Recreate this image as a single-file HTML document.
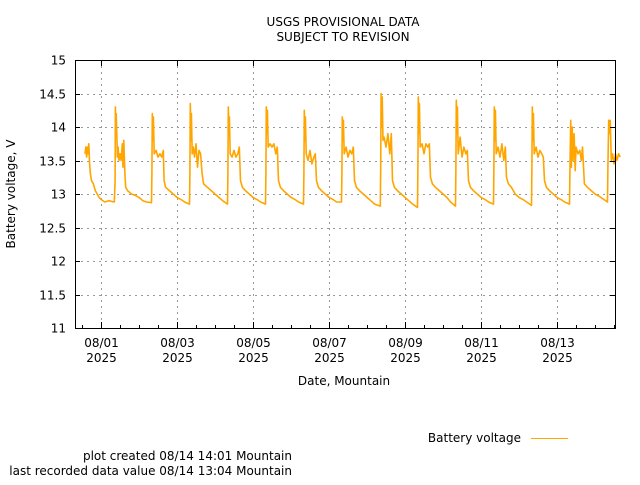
<!DOCTYPE html>
<html><head><meta charset="utf-8"><style>
body{margin:0;background:#fff;}
svg text{font-family:"DejaVu Sans","Liberation Sans",sans-serif;font-size:12px;fill:#000;}
</style></head><body>
<svg id="chart" width="640" height="480" viewBox="0 0 640 480">
<text x="343" y="26" text-anchor="middle">USGS PROVISIONAL DATA</text>
<text x="343" y="41" text-anchor="middle">SUBJECT TO REVISION</text>
<g id="grid"></g>
<g id="series"></g>
<rect x="75.5" y="60.5" width="540" height="268" fill="none" stroke="#000" stroke-width="1"/>
<g id="axes"></g>
<text transform="translate(15,194) rotate(-90)" text-anchor="middle">Battery voltage, V</text>
<text x="344" y="385" text-anchor="middle">Date, Mountain</text>
<g>
<text x="521" y="442" text-anchor="end">Battery voltage</text>
<line x1="531" y1="438.5" x2="568" y2="438.5" stroke="#FFA500" stroke-width="1"/>
</g>
<text x="292" y="460" text-anchor="end">plot created 08/14 14:01 Mountain</text>
<text x="292" y="475" text-anchor="end">last recorded data value 08/14 13:04 Mountain</text>
</svg>
<script>
const yTicks=[11,11.5,12,12.5,13,13.5,14,14.5,15];
const yTickLabels=["11","11.5","12","12.5","13","13.5","14","14.5","15"];
const xTicks=[0,2,4,6,8,10,12];
const xTickLabels=[["08/01","2025"],["08/03","2025"],["08/05","2025"],["08/07","2025"],["08/09","2025"],["08/11","2025"],["08/13","2025"]];
const xMinorTicks=[-0.5,0.5,1,1.5,2.5,3,3.5,4.5,5,5.5,6.5,7,7.5,8.5,9,9.5,10.5,11,11.5,12.5,13,13.5];
const times=[-0.42,-0.40,-0.38,-0.36,-0.34,-0.32,-0.30,-0.28,-0.25,-0.2,-0.15,-0.1,-0.05,0.0,0.1,0.2,0.35,
0.37,0.38,0.39,0.40,0.42,0.43,0.45,0.47,0.50,0.53,0.56,0.58,0.60,0.63,0.65,0.70,0.8,0.9,1.0,1.1,1.2,1.33,
1.34,1.35,1.37,1.38,1.40,1.45,1.5,1.55,1.6,1.64,1.66,1.7,1.8,1.9,2.0,2.1,2.2,2.33,
2.34,2.35,2.37,2.38,2.40,2.43,2.46,2.5,2.54,2.58,2.62,2.66,2.7,2.8,2.9,3.0,3.1,3.2,3.33,
3.34,3.35,3.37,3.38,3.40,3.45,3.5,3.55,3.6,3.64,3.67,3.72,3.8,3.9,4.0,4.1,4.2,4.33,
4.34,4.35,4.37,4.38,4.40,4.45,4.5,4.55,4.6,4.64,4.67,4.72,4.8,4.9,5.0,5.1,5.2,5.33,
5.34,5.35,5.37,5.38,5.40,5.45,5.5,5.55,5.6,5.64,5.67,5.72,5.8,5.9,6.0,6.1,6.2,6.33,
6.34,6.35,6.37,6.38,6.40,6.45,6.5,6.55,6.6,6.64,6.67,6.72,6.8,6.9,7.0,7.1,7.2,7.35,
7.36,7.37,7.39,7.40,7.42,7.45,7.5,7.55,7.6,7.64,7.67,7.72,7.8,7.9,8.0,8.1,8.2,8.33,
8.34,8.35,8.37,8.38,8.40,8.45,8.5,8.55,8.6,8.64,8.67,8.72,8.8,8.9,9.0,9.1,9.2,9.33,
9.34,9.35,9.37,9.38,9.40,9.45,9.5,9.55,9.6,9.64,9.67,9.72,9.8,9.9,10.0,10.1,10.2,10.33,
10.34,10.35,10.37,10.38,10.40,10.45,10.5,10.55,10.6,10.64,10.67,10.72,10.8,10.9,11.0,11.1,11.2,11.33,
11.34,11.35,11.37,11.38,11.40,11.45,11.5,11.55,11.6,11.64,11.67,11.72,11.8,11.9,12.0,12.1,12.2,12.33,
12.34,12.36,12.38,12.40,12.42,12.45,12.48,12.5,12.55,12.6,12.64,12.67,12.72,12.8,12.9,13.0,13.1,13.2,13.33,
13.34,13.36,13.38,13.40,13.43,13.46,13.5,13.54,13.58,13.62,13.66];
const volts=[13.6,13.7,13.55,13.7,13.6,13.75,13.45,13.3,13.2,13.15,13.05,13.0,12.95,12.92,12.88,12.9,12.88,
13.2,14.3,13.9,14.2,13.8,13.55,13.7,13.5,13.6,13.5,13.75,13.4,13.8,13.3,13.1,13.05,13.0,12.98,12.95,12.9,12.88,12.87,
13.3,14.2,13.8,14.15,13.6,13.65,13.55,13.6,13.55,13.65,13.2,13.1,13.05,13.0,12.95,12.92,12.88,12.85,
13.3,14.35,13.8,14.2,13.6,13.7,13.55,13.75,13.4,13.65,13.6,13.3,13.15,13.1,13.05,13.0,12.95,12.9,12.85,
13.3,14.3,13.9,14.15,13.6,13.55,13.65,13.55,13.6,13.7,13.2,13.1,13.05,13.0,12.95,12.92,12.88,12.85,
13.3,14.3,13.9,14.25,13.7,13.75,13.7,13.75,13.6,13.7,13.2,13.1,13.05,13.0,12.95,12.92,12.88,12.85,
13.3,14.25,13.8,14.15,13.6,13.5,13.65,13.45,13.55,13.6,13.2,13.1,13.05,13.0,12.95,12.92,12.88,12.88,
13.3,14.15,13.8,14.1,13.6,13.7,13.55,13.65,13.6,13.7,13.2,13.1,13.05,13.0,12.95,12.9,12.85,12.82,
13.4,14.5,14.0,14.45,13.8,13.85,13.7,13.9,13.6,13.9,13.2,13.1,13.05,13.0,12.95,12.9,12.85,12.8,
13.4,14.45,13.9,14.35,13.7,13.75,13.6,13.75,13.7,13.75,13.25,13.15,13.1,13.05,13.0,12.95,12.88,12.82,
13.4,14.4,13.9,14.3,13.6,13.85,13.55,13.7,13.6,13.65,13.2,13.1,13.05,13.0,12.95,12.92,12.88,12.85,
13.4,14.3,13.8,14.25,13.6,13.7,13.55,13.75,13.5,13.7,13.25,13.15,13.1,13.0,12.95,12.92,12.88,12.83,
13.4,14.3,13.8,14.2,13.6,13.7,13.55,13.65,13.6,13.55,13.2,13.1,13.05,13.0,12.95,12.92,12.88,12.85,
13.3,14.1,13.4,14.0,13.5,13.9,13.35,13.7,13.6,13.65,13.5,13.7,13.15,13.1,13.05,13.0,12.97,12.93,12.88,
13.4,14.1,13.9,14.1,13.5,13.6,13.45,13.6,13.5,13.6,13.55];
const X0=101,DAY=38,Y0=328,VPX=67;
function xs(t){return X0+t*DAY;}
function ys(v){return Y0-(v-11)*VPX;}
const NS="http://www.w3.org/2000/svg";
const grid=document.getElementById('grid'),axes=document.getElementById('axes'),series=document.getElementById('series');
function mk(tag,attrs,parent){const e=document.createElementNS(NS,tag);for(const k in attrs)e.setAttribute(k,attrs[k]);parent.appendChild(e);return e;}
yTicks.forEach((v,i)=>{const y=Math.round(ys(v))+0.5;
 if(i>0&&i<yTicks.length-1){const g=mk('line',{x1:75,x2:615,y1:y,y2:y,stroke:'#999','stroke-dasharray':'2,4','stroke-width':1},grid);
 
 }
 const tk=mk('line',{x1:75,x2:80,y1:y,y2:y,stroke:'#000'},axes);
 
 
 const tk2=mk('line',{x1:610,x2:615,y1:y,y2:y,stroke:'#000'},axes);
 
 
 const t=mk('text',{x:66,y:y+4,'text-anchor':'end'},axes);t.textContent=yTickLabels[i];
 
 
});
xTicks.forEach((d,i)=>{const x=Math.round(xs(d))+0.5;
 const g=mk('line',{x1:x,x2:x,y1:60,y2:328,stroke:'#999','stroke-dasharray':'2,4','stroke-width':1},grid);
 
 
 const tk=mk('line',{x1:x,x2:x,y1:322,y2:328,stroke:'#000'},axes);
 
 
 const tk2=mk('line',{x1:x,x2:x,y1:60,y2:66,stroke:'#000'},axes);
 
 
 const t1=mk('text',{x:x,y:347,'text-anchor':'middle'},axes);t1.textContent=xTickLabels[i][0];
 
 
 const t2=mk('text',{x:x,y:362,'text-anchor':'middle'},axes);t2.textContent=xTickLabels[i][1];
 
 
});
xMinorTicks.forEach(d=>{const x=Math.round(xs(d))+0.5;if(x<75||x>615)return;
 const tk=mk('line',{x1:x,x2:x,y1:325,y2:328,stroke:'#000'},axes);
 
 
});
let dstr=times.map((t,i)=>(i?'L':'M')+xs(t).toFixed(1)+','+ys(volts[i]).toFixed(1)).join('');
const p=mk('path',{d:dstr,fill:'none',stroke:'#FFA500','stroke-width':1.6,'stroke-linejoin':'round'},series);


</script>
</body></html>
